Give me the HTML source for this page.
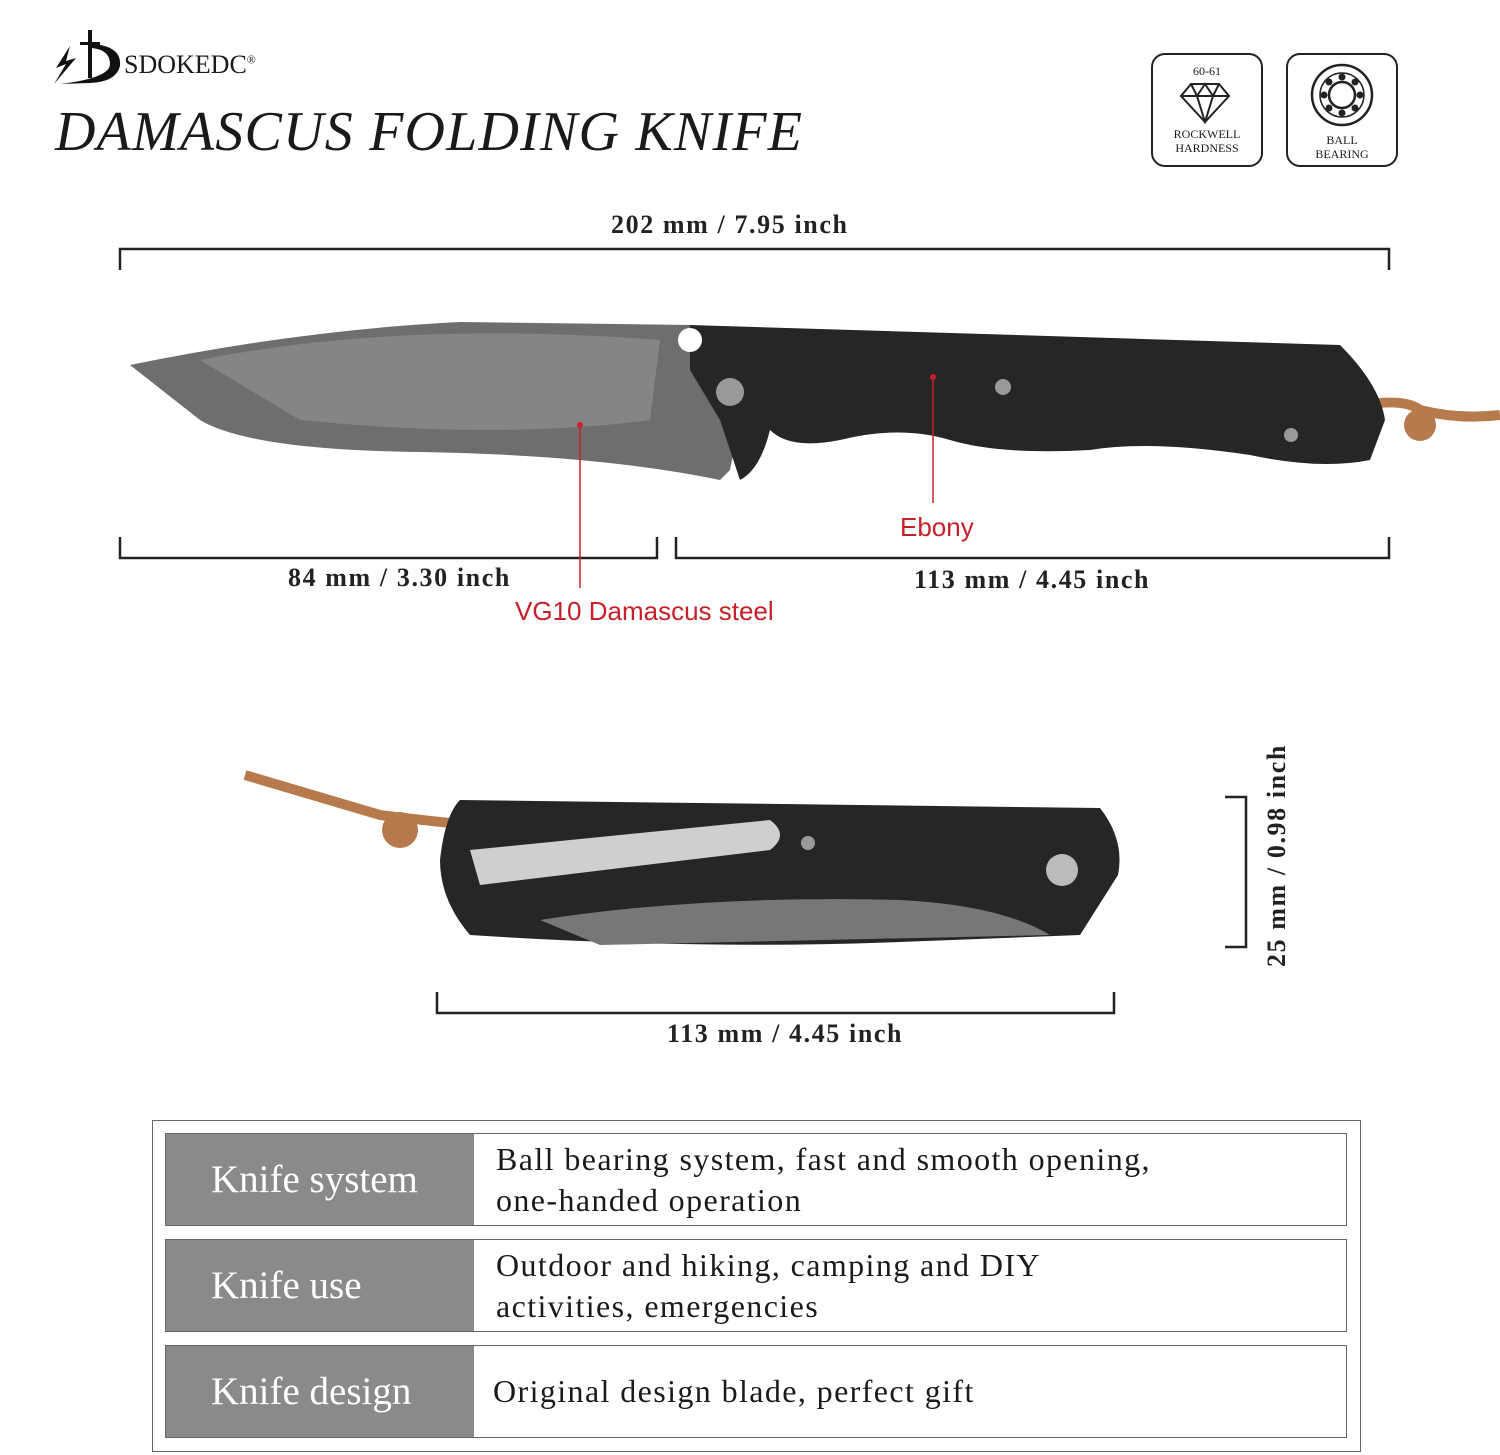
<!DOCTYPE html>
<html><head><style>
body{margin:0;width:1500px;height:1455px;background:#fff;position:relative;overflow:hidden;font-family:"Liberation Serif",serif;color:#1a1a1a}
.a{position:absolute}
.dim{font-size:26px;letter-spacing:1.6px;font-weight:bold;color:#222}
.row{position:absolute;left:165px;width:1182px;height:93px;border:1px solid #666;box-sizing:border-box}
.row .k{position:absolute;left:0;top:0;width:308px;height:100%;background:#8a8a8a;color:#fff;font-size:39px;display:flex;align-items:center;padding-left:45px;box-sizing:border-box}
.row .v{position:absolute;left:330px;top:0;height:100%;font-size:32px;display:flex;align-items:center;line-height:41px;letter-spacing:1.4px}
.red{color:#c8202a;font-family:"Liberation Sans",sans-serif;font-size:26px}
</style></head><body>
<svg class="a" style="left:50px;top:28px" width="90" height="60" viewBox="0 0 90 60">
<path d="M20 18 L6 40 L16 36 L4 56 L26 30 L16 33 Z" fill="#111"/>
<rect x="38" y="2" width="4" height="48" fill="#111"/><rect x="30" y="14" width="20" height="3" fill="#111"/>
<path d="M42 16 Q72 18 70 38 Q66 54 40 55 L10 56 Q60 50 60 36 Q60 22 42 20Z" fill="#111"/>
</svg>
<div class="a" style="left:124px;top:50px;font-size:26px">SDOKEDC<sup style="font-size:12px">®</sup></div>
<div class="a" style="left:55px;top:100px;font-size:56px;font-style:italic;letter-spacing:1.2px">DAMASCUS FOLDING KNIFE</div>
<div class="a" style="left:1151px;top:53px;width:112px;height:114px;border:2px solid #222;border-radius:14px;box-sizing:border-box;text-align:center;font-size:12px;line-height:14px">
<div style="margin-top:9px">60-61</div>
<svg width="60" height="46" viewBox="0 0 60 46"><path d="M14 6 H42 L52 18 L28 44 L4 18Z M4 18 H52 M14 6 L20 18 L28 44 L36 18 L42 6 M20 18 L28 6 L36 18" fill="none" stroke="#222" stroke-width="2"/></svg>
<div>ROCKWELL<br>HARDNESS</div></div>
<div class="a" style="left:1286px;top:53px;width:112px;height:114px;border:2px solid #222;border-radius:14px;box-sizing:border-box;text-align:center;font-size:12px;line-height:14px">
<svg width="70" height="70" viewBox="0 0 70 70" style="margin-top:5px"><circle cx="35" cy="35" r="30" fill="none" stroke="#222" stroke-width="2.5"/><circle cx="35" cy="35" r="22" fill="none" stroke="#222" stroke-width="1.5"/><circle cx="35" cy="35" r="13" fill="none" stroke="#222" stroke-width="2.5"/>
<g fill="#222"><circle cx="35" cy="17" r="3.5"/><circle cx="35" cy="53" r="3.5"/><circle cx="17" cy="35" r="3.5"/><circle cx="53" cy="35" r="3.5"/><circle cx="22" cy="22" r="3.5"/><circle cx="48" cy="22" r="3.5"/><circle cx="22" cy="48" r="3.5"/><circle cx="48" cy="48" r="3.5"/></g></svg>
<div>BALL<br>BEARING</div></div>
<svg class="a" style="left:0;top:0" width="1500" height="1100">
<g stroke="#222" stroke-width="2.5" fill="none">
<path d="M120 270 V249 H1389 V270"/>
<path d="M120 537 V558 H657 V537"/>
<path d="M676 537 V558 H1389 V537"/>
<path d="M437 992 V1013 H1114 V992"/>
<path d="M1225 797 H1246 V947 H1225"/>
</g>
<path d="M1340 410 Q1400 395 1420 410 Q1460 420 1500 415" stroke="#b67a4c" stroke-width="10" fill="none"/>
<circle cx="1420" cy="425" r="16" fill="#b67a4c"/>
<path d="M130 365 Q300 330 460 322 L690 325 L700 360 L740 420 L730 470 L720 480 Q600 455 420 452 Q250 450 200 420 Z" fill="#6e6e6e"/>
<path d="M200 360 Q400 320 660 340 L650 420 Q500 440 300 420 Z" fill="#8f8f8f" opacity="0.7"/>
<path d="M690 325 L1340 345 Q1380 385 1385 420 L1370 460 Q1320 470 1250 455 Q1150 440 1090 450 Q1000 455 950 440 Q900 425 840 440 Q790 450 770 430 Q760 470 740 480 L720 420 L690 370 Z" fill="#262626"/>
<circle cx="690" cy="340" r="12" fill="#fff"/><circle cx="730" cy="392" r="14" fill="#999"/><circle cx="1003" cy="387" r="8" fill="#999"/><circle cx="1291" cy="435" r="7" fill="#999"/>
<g stroke="#c8202a" stroke-width="1.5"><line x1="580" y1="425" x2="580" y2="588"/><line x1="933" y1="377" x2="933" y2="503"/></g>
<circle cx="580" cy="425" r="3" fill="#c8202a"/><circle cx="933" cy="377" r="3" fill="#c8202a"/>
<path d="M245 775 Q330 800 380 815 Q420 820 470 825" stroke="#b67a4c" stroke-width="10" fill="none"/>
<circle cx="400" cy="830" r="18" fill="#b67a4c"/>
<path d="M460 800 L1100 808 Q1125 840 1118 875 L1080 935 L900 942 Q700 950 470 935 Q440 900 440 860 Q445 815 460 800Z" fill="#262626"/>
<path d="M540 920 Q700 895 900 900 Q1000 905 1050 935 L600 945 Z" fill="#777"/>
<path d="M470 850 L770 820 Q790 835 770 850 L480 885 Z" fill="#cfcfcf"/>
<circle cx="1062" cy="870" r="16" fill="#bbb"/><circle cx="808" cy="843" r="7" fill="#999"/>
</svg>
<div class="a dim" style="left:611px;top:210px">202 mm / 7.95 inch</div>
<div class="a dim" style="left:288px;top:563px">84 mm / 3.30 inch</div>
<div class="a dim" style="left:914px;top:565px">113 mm / 4.45 inch</div>
<div class="a dim" style="left:667px;top:1019px">113 mm / 4.45 inch</div>
<div class="a dim" style="left:1262px;top:967px;transform:rotate(-90deg);transform-origin:0 0;white-space:nowrap">25 mm / 0.98 inch</div>
<div class="a red" style="left:900px;top:512px">Ebony</div>
<div class="a red" style="left:515px;top:596px">VG10 Damascus steel</div>
<div class="a" style="left:152px;top:1120px;width:1209px;height:332px;border:1.5px solid #666;box-sizing:border-box"></div>
<div class="row" style="top:1133px"><div class="k">Knife system</div><div class="v">Ball bearing system, fast and smooth opening,<br>one-handed operation</div></div>
<div class="row" style="top:1239px"><div class="k">Knife use</div><div class="v">Outdoor and hiking, camping and DIY<br>activities, emergencies</div></div>
<div class="row" style="top:1345px"><div class="k">Knife design</div><div class="v" style="left:327px">Original design blade, perfect gift</div></div>
</body></html>
